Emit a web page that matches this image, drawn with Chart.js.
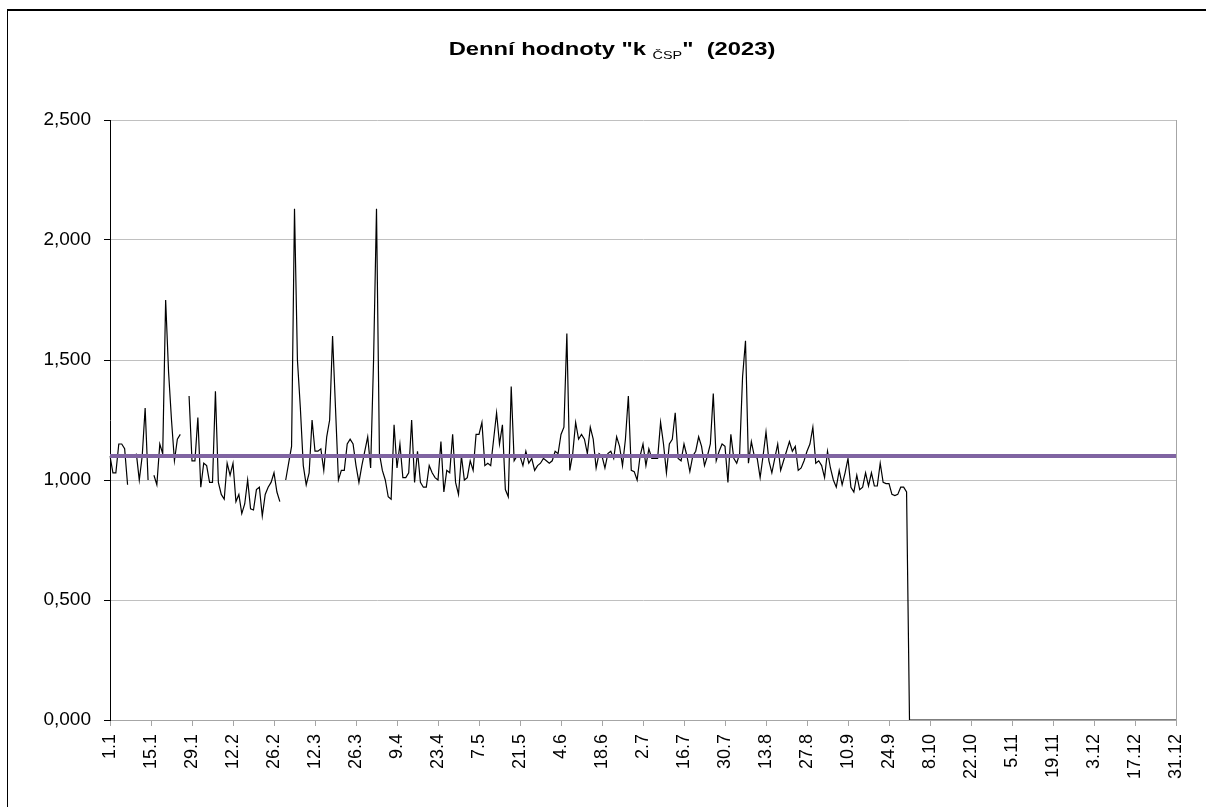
<!DOCTYPE html>
<html>
<head>
<meta charset="utf-8">
<script src="https://cdn.jsdelivr.net/npm/chart.js@4/dist/chart.umd.min.js"></script>
<style>
  html, body { margin: 0; padding: 0; background: #fff; overflow: hidden; }
  #wrap { position: relative; width: 1206px; height: 807px; overflow: hidden; }
  #frame { position: absolute; left: 7px; top: 9px; width: 1300px; height: 900px;
           border-top: 2px solid #000; border-left: 1px solid #000; }
  #c { position: absolute; left: 0; top: 0; }
  #title { position: absolute; left: 0; top: 38px; width: 1224px; text-align: center;
           font-family: "Liberation Sans", Arial, sans-serif; font-weight: bold; font-size: 19px;
           line-height: 22px; color: #000; white-space: pre;
           transform: scaleX(1.25); transform-origin: 612px 0; }
  #title .sub { font-size: 11.5px; font-weight: normal; vertical-align: -4px; }
</style>
</head>
<body>
<div id="wrap">
  <div id="frame"></div>
  <canvas id="c" width="1206" height="807"></canvas>
  <div id="title">Denní hodnoty "k <span class="sub">ČSP</span>"  (2023)</div>
</div>
<script>
// ---- data ----
const monthDays = [31, 28, 31, 30, 31, 30, 31, 31, 30, 31, 30, 31];

const tickLabels = ['1.1','15.1','29.1','12.2','26.2','12.3','26.3','9.4','23.4','7.5','21.5','4.6',
  '18.6','2.7','16.7','30.7','13.8','27.8','10.9','24.9','8.10','22.10','5.11','19.11','3.12','17.12','31.12'];

const yTicks = [0, 0.5, 1, 1.5, 2, 2.5];

const limitValue = 1.1;

const jan = [1.10,1.03,1.03,1.15,1.15,1.13,0.98,null,null,1.11,1.00,1.10,1.30,1.00,null,1.02,0.98,1.15,1.11,1.75,1.45,1.25,1.08,1.17,1.19,null,null,1.35,1.08,1.08,1.26];
const feb = [0.97,1.07,1.06,0.99,0.99,1.37,0.99,0.94,0.92,1.07,1.02,1.07,0.91,0.94,0.86,0.90,1.00,0.88,0.875,0.96,0.97,0.85,0.94,0.97,0.99,1.03,0.95,0.91];
const mar = [null,1.00,1.07,1.14,2.13,1.50,1.30,1.06,0.98,1.03,1.25,1.12,1.12,1.13,1.04,1.18,1.25,1.60,1.30,1.00,1.04,1.04,1.15,1.17,1.15,1.06,0.99,1.06,1.12,1.18,1.05];
const apr = [1.50,2.13,1.11,1.04,1.00,0.93,0.92,1.23,1.05,1.15,1.01,1.01,1.03,1.25,0.99,1.12,0.99,0.97,0.97,1.06,1.03,1.01,1.00,1.16,0.95,1.04,1.03,1.19,0.99,0.94];
const may = [1.10,1.00,1.01,1.08,1.04,1.19,1.19,1.24,1.06,1.07,1.06,1.17,1.28,1.15,1.23,0.96,0.93,1.39,1.08,1.10,1.10,1.06,1.12,1.07,1.09,1.04,1.06,1.07,1.09,1.08,1.07];
const jun = [1.08,1.12,1.11,1.19,1.22,1.61,1.04,1.11,1.24,1.17,1.19,1.17,1.11,1.22,1.17,1.05,1.11,1.10,1.05,1.11,1.12,1.09,1.18,1.14,1.06,1.17,1.35,1.04,1.035,1.00];
const jul = [1.10,1.15,1.06,1.13,1.09,1.09,1.09,1.24,1.15,1.03,1.15,1.17,1.28,1.09,1.08,1.15,1.10,1.035,1.10,1.12,1.18,1.14,1.06,1.10,1.15,1.36,1.08,1.12,1.15,1.14,0.99];
const aug = [1.19,1.09,1.07,1.11,1.43,1.58,1.07,1.16,1.10,1.09,1.01,1.10,1.20,1.08,1.03,1.09,1.15,1.04,1.08,1.12,1.16,1.12,1.14,1.04,1.05,1.08,1.12,1.15,1.22,1.07,1.08];
const sep = [1.06,1.01,1.12,1.05,1.00,0.97,1.04,0.98,1.03,1.09,0.97,0.95,1.02,0.96,0.97,1.03,0.975,1.03,0.975,0.975,1.07,0.99,0.985,0.985,0.94,0.935,0.94,0.97,0.97,0.95];
const oct = [0,0,0,0,0,0,0,0,0,0,0,0,0,0,0,0,0,0,0,0,0,0,0,0,0,0,0,0,0,0,0];
const nov = [0,0,0,0,0,0,0,0,0,0,0,0,0,0,0,0,0,0,0,0,0,0,0,0,0,0,0,0,0,0];
const dec = [0,0,0,0,0,0,0,0,0,0,0,0,0,0,0,0,0,0,0,0,0,0,0,0,0,0,0,0,0,0,0];

// ---- build ----
const categories = [];
monthDays.forEach((n, m) => { for (let d = 1; d <= n; d++) categories.push(d + '.' + (m + 1)); });
const dailyValues = [].concat(jan, feb, mar, apr, may, jun, jul, aug, sep, oct, nov, dec);

const rightBorder = {
  id: 'rightBorder',
  afterDraw(chart) {
    const a = chart.chartArea, ctx = chart.ctx;
    ctx.save();
    ctx.strokeStyle = '#a6a6a6';
    ctx.lineWidth = 1;
    ctx.beginPath();
    ctx.moveTo(Math.round(a.right) + 0.5, a.top);
    ctx.lineTo(Math.round(a.right) + 0.5, a.bottom);
    ctx.stroke();
    ctx.restore();
  }
};

new Chart(document.getElementById('c'), {
  type: 'line',
  data: {
    labels: categories,
    datasets: [
      {
        label: 'limit',
        data: [{ x: categories[0], y: limitValue }, { x: categories[categories.length - 1], y: limitValue }],
        borderColor: '#8064A2',
        borderWidth: 4,
        pointRadius: 0,
        tension: 0,
        order: 0
      },
      {
        label: 'k ČSP',
        data: dailyValues,
        borderColor: '#000000',
        borderWidth: 1.2,
        pointRadius: 0,
        tension: 0,
        spanGaps: false,
        order: 1
      }
    ]
  },
  options: {
    responsive: false,
    animation: false,
    devicePixelRatio: 1,
    layout: { padding: { left: 0, right: 30, top: 120, bottom: 0 } },
    plugins: { legend: { display: false }, title: { display: false }, tooltip: { enabled: false } },
    scales: {
      x: {
        type: 'category',
        offset: false,
        border: { display: true, color: '#a6a6a6', width: 1 },
        grid: {
          display: true,
          drawOnChartArea: false,
          drawTicks: true,
          tickLength: 6,
          tickColor: (ctx) => (ctx.index % 14 === 0 ? '#a6a6a6' : 'rgba(0,0,0,0)')
        },
        ticks: {
          autoSkip: false,
          minRotation: 90,
          maxRotation: 90,
          padding: 8,
          color: '#000',
          font: { family: '"Liberation Sans", Arial, sans-serif', size: 18 },
          callback: (value, index) => (index % 14 === 0 ? tickLabels[index / 14] : '')
        },
        afterFit: (scale) => { scale.height = 87; }
      },
      y: {
        min: 0,
        max: 2.5,
        border: { display: true, color: '#000', width: 1 },
        grid: { color: '#c0c0c0', lineWidth: 1, tickColor: '#000', tickLength: 6 },
        ticks: {
          stepSize: 0.5,
          padding: 13,
          color: '#000',
          font: { family: '"Liberation Sans", Arial, sans-serif', size: 19 },
          callback: (v) => (yTicks.includes(v) ? v.toFixed(3).replace('.', ',') : '')
        },
        afterFit: (scale) => { scale.width = 110; }
      }
    }
  },
  plugins: [rightBorder]
});
</script>
</body>
</html>
